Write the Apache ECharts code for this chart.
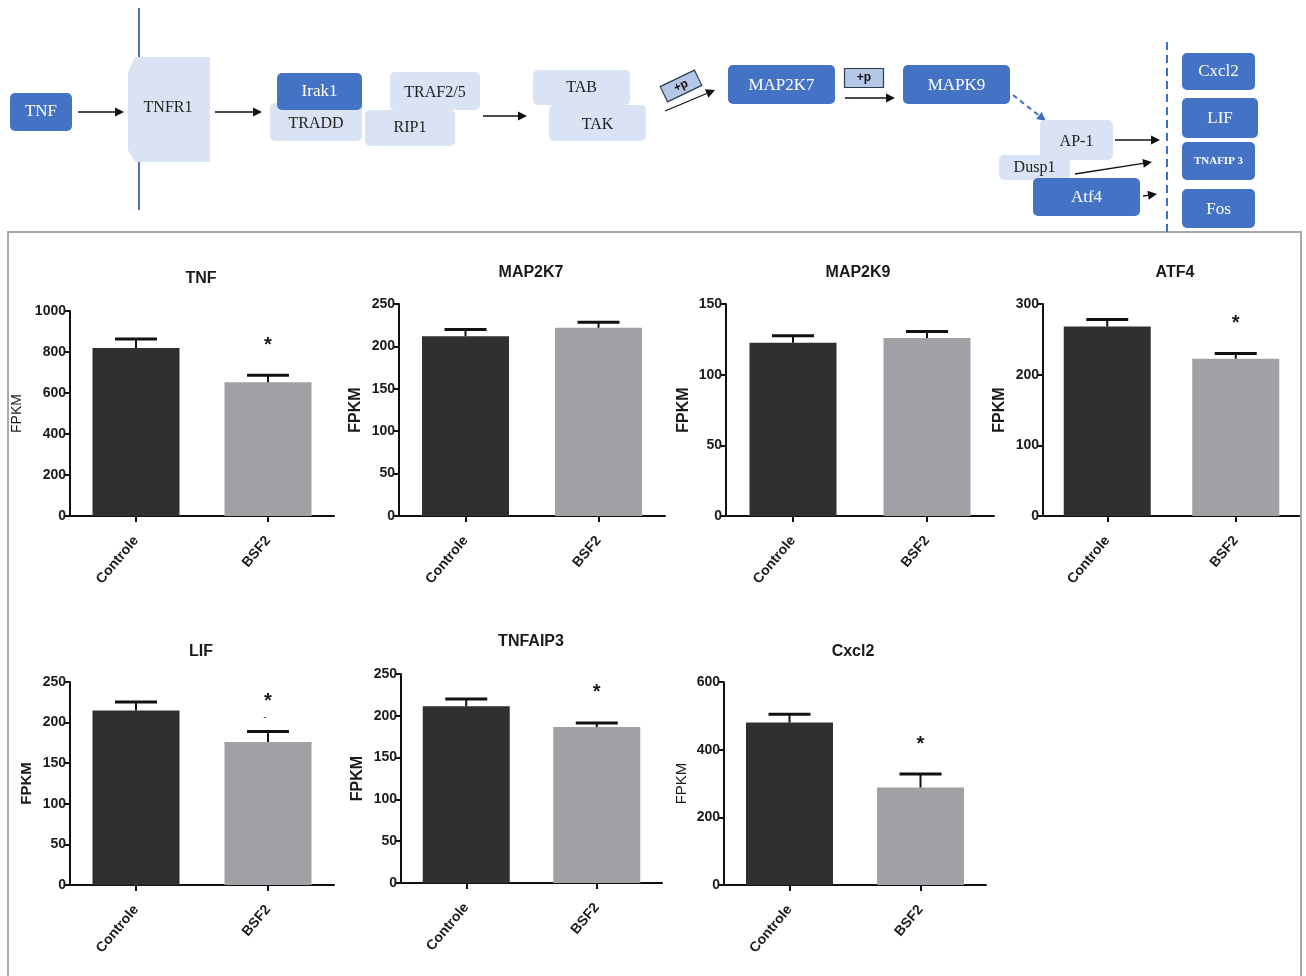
<!DOCTYPE html>
<html>
<head>
<meta charset="utf-8">
<script src="https://cdn.jsdelivr.net/npm/echarts@6/dist/echarts.min.js"></script>
<style>
  html, body { margin: 0; padding: 0; background: #ffffff; }
  #main { width: 1306px; height: 976px; }
</style>
</head>
<body>
<div id="main"></div>
<script>
// ---- data -------------------------------------------------------------
const groups = ['Controle', 'BSF2'];
const genes = ['TNF', 'MAP2K7', 'MAP2K9', 'ATF4', 'LIF', 'TNFAIP3', 'Cxcl2'];

// mean FPKM (Controle, BSF2) and standard error for each gene
const fpkmTNF = [820, 653];         const semTNF = [43, 34];
const fpkmMAP2K7 = [212, 222];      const semMAP2K7 = [8, 6.5];
const fpkmMAP2K9 = [122.5, 126];    const semMAP2K9 = [5, 4.5];
const fpkmATF4 = [268, 222.5];      const semATF4 = [10, 7.5];
const fpkmLIF = [215, 176];         const semLIF = [10.5, 13];
const fpkmTNFAIP3 = [211.5, 186.5]; const semTNFAIP3 = [8.5, 5];
const fpkmCxcl2 = [480, 288];       const semCxcl2 = [25, 40];

// significance mark per bar
const sigTNF = ['', '*'];
const sigMAP2K7 = ['', ''];
const sigMAP2K9 = ['', ''];
const sigATF4 = ['', '*'];
const sigLIF = ['', '*'];
const sigTNFAIP3 = ['', '*'];
const sigCxcl2 = ['', '*'];

// y-axis range and tick step per gene
const yMax = [1000, 250, 150, 300, 250, 250, 600];
const yStep = [200, 50, 50, 100, 50, 50, 200];

const means = [fpkmTNF, fpkmMAP2K7, fpkmMAP2K9, fpkmATF4, fpkmLIF, fpkmTNFAIP3, fpkmCxcl2];
const sems = [semTNF, semMAP2K7, semMAP2K9, semATF4, semLIF, semTNFAIP3, semCxcl2];
const sigs = [sigTNF, sigMAP2K7, sigMAP2K9, sigATF4, sigLIF, sigTNFAIP3, sigCxcl2];

// ---- layout of the seven panels ---------------------------------------
const panelBox = [
  { left: 70,   top: 311, width: 264, height: 205, tx: 201,  ty: 279, gap: 46 },
  { left: 399,  top: 304, width: 266, height: 212, tx: 531,  ty: 273, gap: 35 },
  { left: 726,  top: 304, width: 268, height: 212, tx: 858,  ty: 273, gap: 34 },
  { left: 1043, top: 304, width: 257, height: 212, tx: 1175, ty: 273, gap: 35 },
  { left: 70,   top: 682, width: 264, height: 203, tx: 201,  ty: 652, gap: 36 },
  { left: 401,  top: 674, width: 261, height: 209, tx: 531,  ty: 642, gap: 35 },
  { left: 724,  top: 682, width: 262, height: 203, tx: 853,  ty: 652, gap: 35 }
];
const nameStyles = [
  { fontSize: 14, fontWeight: 'normal' },
  { fontSize: 16, fontWeight: 'bold' },
  { fontSize: 16, fontWeight: 'bold' },
  { fontSize: 16, fontWeight: 'bold' },
  { fontSize: 15, fontWeight: 'bold' },
  { fontSize: 16, fontWeight: 'bold' },
  { fontSize: 15, fontWeight: 'normal' }
];

const SANS = '"Liberation Sans", Arial, sans-serif';
const SERIF = '"Liberation Serif", "Times New Roman", serif';
const barColors = ['#303030', '#a1a0a5'];
const AX = '#111111';

const grids = [], xAxes = [], yAxes = [], titles = [], series = [];

genes.forEach((gene, i) => {
  const b = panelBox[i];
  grids.push({ left: b.left, top: b.top, width: b.width, height: b.height, containLabel: false });
  titles.push({
    text: gene, left: b.tx, top: b.ty - 8, textAlign: 'center', padding: 0,
    textStyle: { fontFamily: SANS, fontSize: 16, fontWeight: 'bold', color: '#1a1a1a' }
  });
  xAxes.push({
    gridIndex: i, type: 'category', data: groups, boundaryGap: true,
    axisLine: { show: true, lineStyle: { color: AX, width: 2 } },
    axisTick: { show: true, alignWithLabel: true, length: 6, lineStyle: { color: AX, width: 2 } },
    axisLabel: {
      rotate: 50, margin: 22, interval: 0,
      fontFamily: SANS, fontSize: 14, fontWeight: 'bold', color: '#1a1a1a'
    },
    splitLine: { show: false }
  });
  yAxes.push({
    gridIndex: i, type: 'value', min: 0, max: yMax[i], interval: yStep[i],
    name: 'FPKM', nameLocation: 'middle', nameRotate: 90, nameGap: b.gap,
    nameTextStyle: Object.assign({ fontFamily: SANS, color: '#1a1a1a' }, nameStyles[i]),
    axisLine: { show: true, lineStyle: { color: AX, width: 2 } },
    axisTick: { show: true, length: 5, lineStyle: { color: AX, width: 2 } },
    axisLabel: {
      margin: 4, fontFamily: SANS, fontSize: 14, fontWeight: 'bold', color: '#1a1a1a',
      formatter: v => String(v)
    },
    splitLine: { show: false }
  });
  series.push({
    type: 'bar', xAxisIndex: i, yAxisIndex: i, barWidth: 87, silent: true,
    data: means[i].map((v, j) => ({ value: v, itemStyle: { color: barColors[j] } }))
  });
  const sigList = sigs[i];
  series.push({
    type: 'custom', xAxisIndex: i, yAxisIndex: i, silent: true, z: 5,
    data: means[i].map((v, j) => [j, v, sems[i][j]]),
    encode: { x: 0, y: 1 },
    renderItem: function (params, api) {
      const x = api.value(0), m = api.value(1), e = api.value(2);
      const base = api.coord([x, m]);
      const top = api.coord([x, m + e]);
      const half = 21;
      const kids = [
        { type: 'line', shape: { x1: base[0], y1: base[1], x2: top[0], y2: top[1] },
          style: { stroke: AX, lineWidth: 2 } },
        { type: 'line', shape: { x1: top[0] - half, y1: top[1], x2: top[0] + half, y2: top[1] },
          style: { stroke: AX, lineWidth: 3 } }
      ];
      const s = sigList[params.dataIndex];
      if (s) {
        kids.push({ type: 'text', x: top[0], y: top[1] - 30,
          style: { text: s, font: 'bold 20px ' + SANS, fill: '#1a1a1a', align: 'center', verticalAlign: 'middle' } });
      }
      return { type: 'group', children: kids };
    }
  });
});

// ---- pathway diagram ------------------------------------------------------
const BLUE = '#4472c4';
const LIGHT = '#dae3f3';
const graphics = [];

function box(x, y, w, h, fill, text, color, font, dy) {
  graphics.push({ type: 'rect', shape: { x: x, y: y, width: w, height: h, r: 5 }, style: { fill: fill }, z: 10 });
  if (text) {
    graphics.push({ type: 'text', x: x + w / 2, y: y + h / 2 + (dy || 0), z: 11,
      style: { text: text, font: font, fill: color, align: 'center', verticalAlign: 'middle' } });
  }
}
function label(x, y, text, color, font) {
  graphics.push({ type: 'text', x: x, y: y, z: 11,
    style: { text: text, font: font, fill: color, align: 'center', verticalAlign: 'middle' } });
}
function arrow(x1, y1, x2, y2, color, dashed) {
  const a = Math.atan2(y2 - y1, x2 - x1), L = 9, W = 4.5;
  const bx = x2 - L * Math.cos(a), by = y2 - L * Math.sin(a);
  graphics.push({ type: 'line', shape: { x1: x1, y1: y1, x2: bx, y2: by }, z: 10,
    style: { stroke: color, lineWidth: dashed ? 2 : 1.3, lineDash: dashed ? [5, 4] : null } });
  graphics.push({ type: 'polygon', z: 10,
    shape: { points: [[x2, y2], [bx + W * Math.sin(a), by - W * Math.cos(a)], [bx - W * Math.sin(a), by + W * Math.cos(a)]] },
    style: { fill: color } });
}
function phospho(cx, cy, w, h, rot) {
  graphics.push({ type: 'group', x: cx, y: cy, rotation: rot, z: 12, children: [
    { type: 'rect', shape: { x: -w / 2, y: -h / 2, width: w, height: h },
      style: { fill: '#b4c7e7', stroke: '#2f3a4a', lineWidth: 1.2 } },
    { type: 'text', x: 0, y: 0,
      style: { text: '+p', font: 'bold 12px ' + SANS, fill: '#111', align: 'center', verticalAlign: 'middle' } }
  ] });
}

const fBlue = '17px ' + SERIF;
const fLight = '16px ' + SERIF;

// cell membrane
graphics.push({ type: 'line', shape: { x1: 139, y1: 8, x2: 139, y2: 210 }, z: 9,
  style: { stroke: '#4f6fb8', lineWidth: 2 } });

box(10, 93, 62, 38, BLUE, 'TNF', '#fff', fBlue);
arrow(78, 112, 124, 112, '#111');

// receptor with notched left side
graphics.push({ type: 'polygon', z: 10,
  shape: { points: [[135, 57], [210, 57], [210, 162], [135, 162], [128, 150], [128, 72]] },
  style: { fill: LIGHT } });
label(168, 108, 'TNFR1', '#222', fLight);
arrow(215, 112, 262, 112, '#111');

box(270, 103, 92, 38, LIGHT, 'TRADD', '#222', fLight, 2);
box(277, 73, 85, 37, BLUE, 'Irak1', '#fff', fBlue);
box(390, 72, 90, 38, LIGHT, 'TRAF2/5', '#222', fLight, 2);
box(365, 110, 90, 36, LIGHT, 'RIP1', '#222', fLight);
arrow(483, 116, 527, 116, '#111');

box(533, 70, 97, 35, LIGHT, 'TAB', '#222', fLight);
box(549, 105, 97, 36, LIGHT, 'TAK', '#222', fLight, 2);

phospho(681, 86, 38, 17, 0.45);
arrow(665, 111, 715, 90, '#111');
box(728, 65, 107, 39, BLUE, 'MAP2K7', '#fff', fBlue, 1);
phospho(864, 78, 39, 19, 0);
arrow(845, 98, 895, 98, '#111');
box(903, 65, 107, 39, BLUE, 'MAPK9', '#fff', fBlue, 1);
arrow(1013, 95, 1046, 121, '#3c6fc4', true);

box(999, 155, 71, 25, LIGHT, 'Dusp1', '#222', fLight);
box(1040, 120, 73, 40, LIGHT, 'AP-1', '#222', fLight, 2);
arrow(1115, 140, 1160, 140, '#111');
arrow(1075, 174, 1152, 162, '#111');
box(1033, 178, 107, 38, BLUE, 'Atf4', '#fff', fBlue, 1);
arrow(1143, 196, 1157, 194, '#111');

// nuclear boundary
graphics.push({ type: 'line', shape: { x1: 1167, y1: 42, x2: 1167, y2: 232 }, z: 9,
  style: { stroke: '#3c6fc4', lineWidth: 2, lineDash: [8, 5] } });

box(1182, 53, 73, 37, BLUE, 'Cxcl2', '#fff', fBlue);
box(1182, 98, 76, 40, BLUE, 'LIF', '#fff', fBlue, 1);
box(1182, 142, 73, 38, BLUE, 'TNAFIP 3', '#fff', 'bold 11px ' + SERIF);
box(1182, 189, 73, 39, BLUE, 'Fos', '#fff', fBlue, 1);

// frame around the bar-chart panels
graphics.push({ type: 'rect', shape: { x: 8, y: 232, width: 1293, height: 770 }, z: 1,
  style: { fill: 'none', stroke: '#a8a8a8', lineWidth: 2 } });
// small dash above the LIF treatment bar
label(265, 717, '-', '#444', '10px ' + SANS);

const chart = echarts.init(document.getElementById('main'), null, { renderer: 'canvas' });
chart.setOption({
  animation: false,
  backgroundColor: '#ffffff',
  title: titles,
  grid: grids,
  xAxis: xAxes,
  yAxis: yAxes,
  series: series,
  graphic: { elements: graphics }
});
</script>
</body>
</html>
